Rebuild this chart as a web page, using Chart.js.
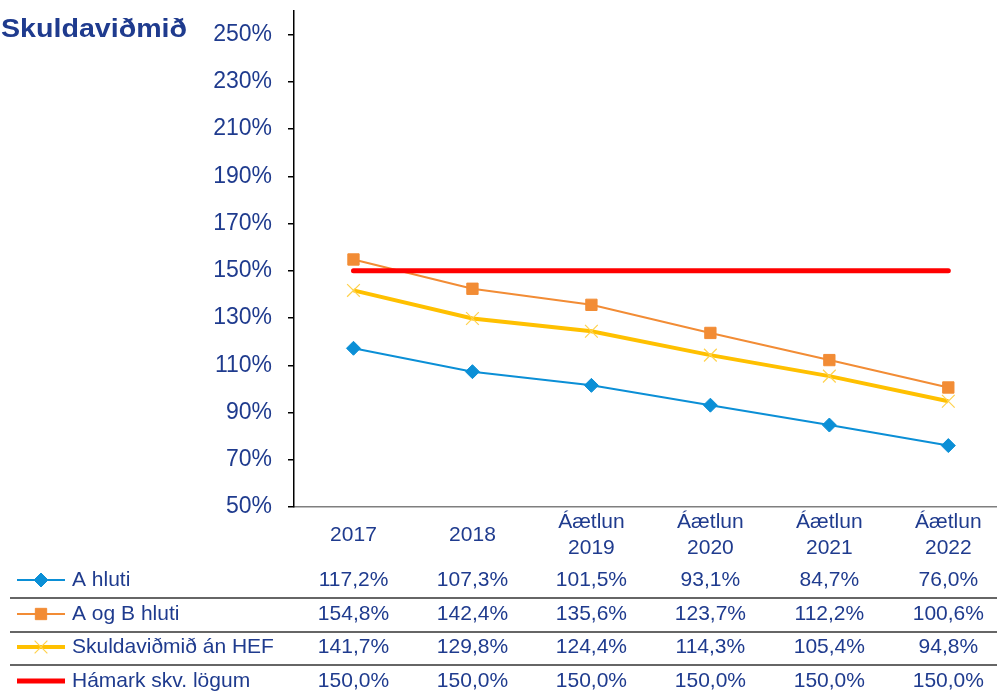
<!DOCTYPE html>
<html>
<head>
<meta charset="utf-8">
<script src="https://cdn.jsdelivr.net/npm/chart.js@4/dist/chart.umd.min.js"></script>
<style>
  html, body { margin: 0; padding: 0; background: #fff; overflow: hidden; }
  #chart { display: block; }
</style>
</head>
<body>
<canvas id="chart" width="1018" height="692"></canvas>
<script>
const categories = [['2017'], ['2018'], ['Áætlun', '2019'], ['Áætlun', '2020'], ['Áætlun', '2021'], ['Áætlun', '2022']];
const aHluti = [117.2, 107.3, 101.5, 93.1, 84.7, 76.0];
const aOgBHluti = [154.8, 142.4, 135.6, 123.7, 112.2, 100.6];
const anHef = [141.7, 129.8, 124.4, 114.3, 105.4, 94.8];
const hamark = [150.0, 150.0, 150.0, 150.0, 150.0, 150.0];
const yTicks = [50, 70, 90, 110, 130, 150, 170, 190, 210, 230, 250];
const seriesNames = ['A hluti', 'A og B hluti', 'Skuldaviðmið án HEF', 'Hámark skv. lögum'];

const TEXT = '#1f3b8e';
const FONT = '"Liberation Sans", Arial, sans-serif';

function fmt(v) {
    return v.toFixed(1).replace('.', ',') + '%';
}

// draws title, category labels and the data table under the plot
const tablePlugin = {
    id: 'tablePlugin',
    afterDraw(chart) {
        const ctx = chart.ctx;
        const x = chart.scales.x;
        ctx.save();

        // title
        ctx.font = 'bold 25px ' + FONT;
        ctx.fillStyle = TEXT;
        ctx.textBaseline = 'alphabetic';
        ctx.textAlign = 'left';
        const tw = ctx.measureText('Skuldaviðmið').width;
        ctx.save();
        ctx.translate(1, 37);
        ctx.scale(186 / tw, 1);
        ctx.fillText('Skuldaviðmið', 0, 0);
        ctx.restore();

        // category labels
        ctx.font = '21px ' + FONT;
        ctx.textAlign = 'center';
        ctx.textBaseline = 'middle';
        categories.forEach((lines, i) => {
            const px = x.getPixelForValue(i);
            if (lines.length === 1) {
                ctx.fillText(lines[0], px, 535);
            } else {
                ctx.fillText(lines[0], px, 522);
                ctx.fillText(lines[1], px, 548);
            }
        });

        // table rows
        const rowY = [580, 614, 647, 681];
        const lineY = [598, 632, 665];
        ctx.strokeStyle = '#333';
        ctx.lineWidth = 1.5;
        lineY.forEach(ly => {
            ctx.beginPath();
            ctx.moveTo(10, ly);
            ctx.lineTo(chart.width, ly);
            ctx.stroke();
        });

        chart.data.datasets.forEach((ds, r) => {
            const y = rowY[r];
            // legend key
            ctx.strokeStyle = ds.borderColor;
            ctx.lineWidth = ds.borderWidth;
            ctx.lineCap = 'butt';
            ctx.beginPath();
            ctx.moveTo(17, y);
            ctx.lineTo(65, y);
            ctx.stroke();
            if (ds.pointRadius > 0) {
                ctx.fillStyle = ds.pointBackgroundColor;
                ctx.strokeStyle = ds.pointBorderColor;
                ctx.lineWidth = ds.pointBorderWidth;
                Chart.helpers.drawPoint(ctx, {
                    pointStyle: ds.pointStyle,
                    radius: ds.pointRadius,
                    rotation: 0,
                    borderWidth: ds.pointBorderWidth
                }, 41, y);
            }
            ctx.fillStyle = TEXT;
            ctx.font = '21px ' + FONT;
            ctx.textAlign = 'left';
            ctx.textBaseline = 'middle';
            ctx.fillText(seriesNames[r], 72, y);
            ctx.textAlign = 'center';
            ds.data.forEach((v, i) => {
                ctx.fillText(fmt(v), x.getPixelForValue(i), y);
            });
        });
        ctx.restore();
    }
};

new Chart(document.getElementById('chart'), {
    type: 'line',
    data: {
        labels: categories,
        datasets: [
            {
                label: seriesNames[0], data: aHluti, order: 4,
                borderColor: '#0b8fd6', borderWidth: 2,
                pointStyle: 'rectRot', pointRadius: 7,
                pointBackgroundColor: '#0b8fd6', pointBorderColor: '#0b8fd6', pointBorderWidth: 1
            },
            {
                label: seriesNames[1], data: aOgBHluti, order: 3,
                borderColor: '#f28c35', borderWidth: 2,
                pointStyle: 'rect', pointRadius: 8,
                pointBackgroundColor: '#f28c35', pointBorderColor: '#f28c35', pointBorderWidth: 1
            },
            {
                label: seriesNames[2], data: anHef, order: 2,
                borderColor: '#ffc000', borderWidth: 4,
                pointStyle: 'crossRot', pointRadius: 9,
                pointBackgroundColor: '#ffd24d', pointBorderColor: '#ffd24d', pointBorderWidth: 1.2
            },
            {
                label: seriesNames[3], data: hamark, order: 1,
                borderColor: '#ff0000', borderWidth: 5, borderCapStyle: 'round',
                pointRadius: 0
            }
        ]
    },
    options: {
        responsive: false,
        animation: false,
        layout: { padding: { top: 11, right: 2, left: 0, bottom: 0 } },
        plugins: {
            legend: { display: false },
            tooltip: { enabled: false },
            title: { display: false }
        },
        elements: { line: { tension: 0 } },
        scales: {
            x: {
                offset: true,
                ticks: { display: false },
                grid: { display: false },
                border: { display: true, color: '#7f7f7f', width: 1.5 },
                afterFit(scale) { scale.height = 185; }
            },
            y: {
                min: 50,
                max: 260,
                afterBuildTicks(scale) { scale.ticks = yTicks.map(v => ({ value: v })); },
                ticks: {
                    color: TEXT,
                    font: { family: FONT, size: 23 },
                    padding: 16,
                    callback: v => v + '%'
                },
                grid: { drawOnChartArea: false, drawTicks: true, tickLength: 6, color: '#000', lineWidth: 1.5 },
                border: { display: true, color: '#000', width: 1.5 },
                afterFit(scale) {
                    scale.width = 294;
                    scale.paddingTop = 0;
                    scale.paddingBottom = 0;
                }
            }
        }
    },
    plugins: [tablePlugin]
});
</script>
</body>
</html>
